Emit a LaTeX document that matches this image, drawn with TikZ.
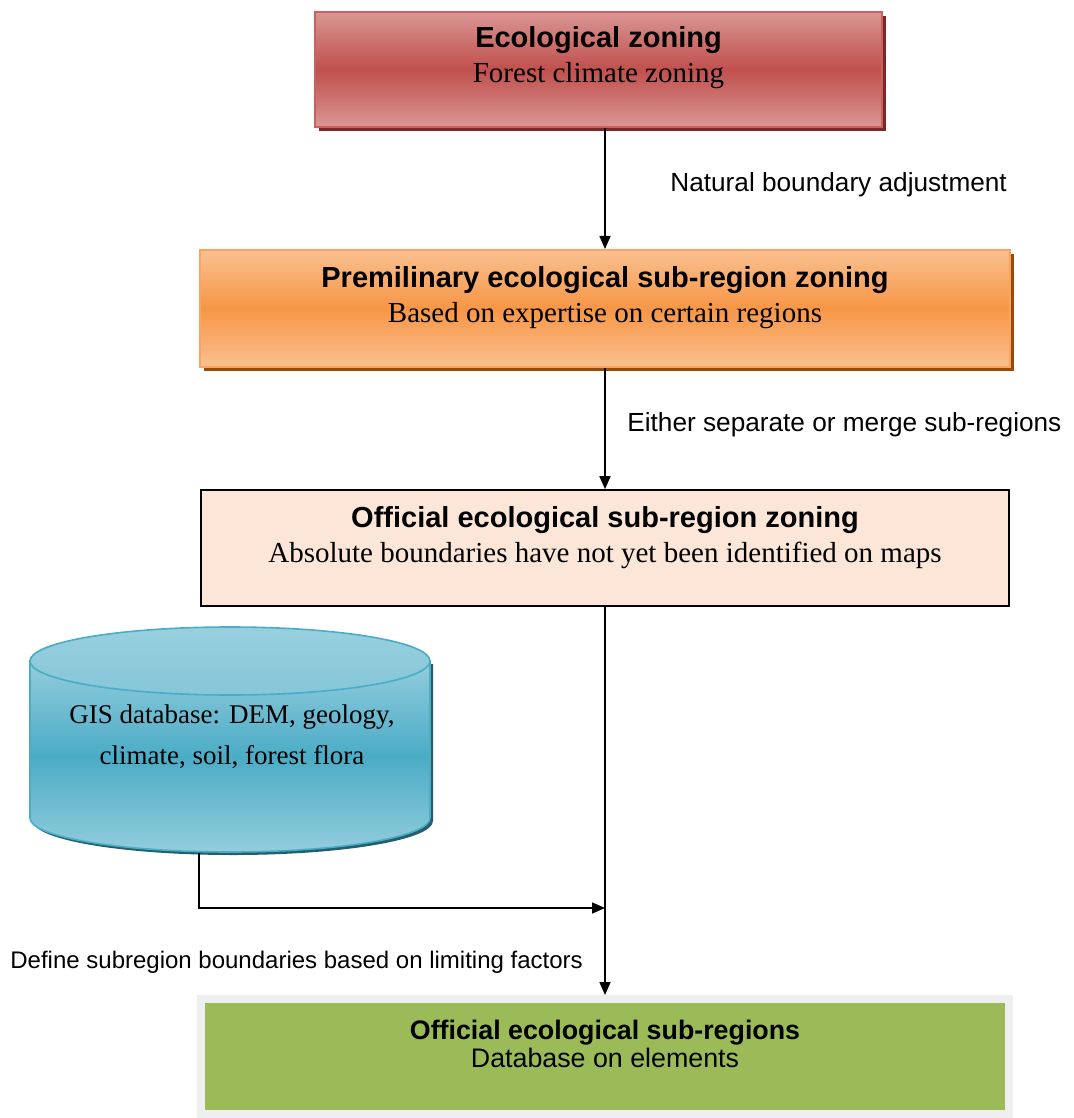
\documentclass[tikz,border=0pt]{standalone}
\usepackage{fontspec}
\setmainfont{Liberation Serif}
\setsansfont{Liberation Sans}
\usetikzlibrary{arrows.meta,shadows}

\definecolor{redlt}{HTML}{DA9694}
\definecolor{reddk}{HTML}{C0504D}
\definecolor{redbd}{HTML}{C9615E}
\definecolor{redsh}{HTML}{7B2927}
\definecolor{orglt}{HTML}{FAC090}
\definecolor{orgdk}{HTML}{F79646}
\definecolor{orgbd}{HTML}{F8A462}
\definecolor{orgsh}{HTML}{9A4A0A}
\definecolor{peach}{HTML}{FCE6D7}
\definecolor{cyllt}{HTML}{93CDDD}
\definecolor{cyldk}{HTML}{4BACC6}
\definecolor{cylbd}{HTML}{4BACC6}
\definecolor{cylsh}{HTML}{215E6E}
\definecolor{grn}{HTML}{9BBB59}
\definecolor{frame}{HTML}{EFEFEF}

\begin{document}
\begin{tikzpicture}[x=0.5pt, y=-0.5pt,
    box/.style={rectangle, inner sep=0pt},
    boxtext/.style={align=center, font=\fontsize{14.5}{17.5}\selectfont},
    lbl/.style={anchor=west, inner sep=0pt, font=\sffamily\fontsize{13.1}{16}\selectfont},
    arr/.style={line width=0.8pt, -{Triangle[length=6.5pt,width=5.5pt]}}]
  \useasboundingbox (0,0) rectangle (1073,1118);

  % Zoning steps
  \node[box, minimum width=283.5pt, minimum height=57.5pt, draw=redbd, line width=1pt,
        top color=redlt, bottom color=redlt, middle color=reddk,
        drop shadow={shadow xshift=2pt, shadow yshift=-2pt, opacity=1, fill=redsh}] (e1) at (598.5,69.5) {};
  \node[boxtext] (t1) at (598.5,57.5) {{\sffamily\bfseries Ecological zoning}\\Forest climate zoning};

  \node[box, minimum width=405pt, minimum height=58.5pt, draw=orgbd, line width=1pt,
        top color=orglt, bottom color=orglt, middle color=orgdk,
        drop shadow={shadow xshift=2pt, shadow yshift=-2pt, opacity=1, fill=orgsh}] (e2) at (605,308.5) {};
  \node[boxtext] (t2) at (605,297.5) {{\sffamily\bfseries Premilinary ecological sub-region zoning}\\Based on expertise on certain regions};

  \node[box, minimum width=404pt, minimum height=58pt, draw=black, line width=0.8pt, fill=peach] (e3) at (605,548) {};
  \node[boxtext] (t3) at (605,537.5) {{\sffamily\bfseries Official ecological sub-region zoning}\\Absolute boundaries have not yet been identified on maps};

  \node[box, minimum width=404pt, minimum height=57.5pt, draw=frame, line width=4pt, fill=grn] (e4) at (605,1056.5) {};
  \node[align=center, font=\sffamily\fontsize{13.4}{14}\selectfont] (t4) at (605,1044) {\textbf{Official ecological sub-regions}\\Database on elements};

  % Database
  \fill[cylsh] (33,664) -- (33,821) arc[start angle=180, end angle=360, x radius=100pt, y radius=17pt] -- (433,664) -- cycle;
  \path[draw=cylbd, line width=0.8pt, top color=cyllt, bottom color=cyllt, middle color=cyldk]
    (30,661) -- (30,818) arc[start angle=180, end angle=360, x radius=100pt, y radius=17pt] -- (430,661) -- cycle;
  \path[draw=cylbd, line width=0.8pt, top color=cyllt!95!white, bottom color=cyllt!80!cyldk]
    (230,661) ellipse[x radius=100pt, y radius=17pt];
  \node[align=center, font=\fontsize{13.5}{20.5}\selectfont] (gis) at (232,737) {GIS database: DEM, geology,\\climate, soil, forest flora};
  \coordinate (gisb) at (199,853);
  \coordinate (join) at (e3.south |- 0,908);

  % Arrows
  \draw[arr] (e1.south -| e2.north) -- (e2.north);
  \draw[arr] (e2.south) -- (e3.north);
  \draw[arr] (e3.south) -- (e4.north);
  \draw[arr] (gisb) |- (join);

  \node[lbl] (l1) at (670,185) {Natural boundary adjustment};
  \node[lbl] (l2) at (627,425) {Either separate or merge sub-regions};
  \node[lbl, font=\sffamily\fontsize{12}{14}\selectfont] (l3) at (10,962) {Define subregion boundaries based on limiting factors};
\end{tikzpicture}
\end{document}
